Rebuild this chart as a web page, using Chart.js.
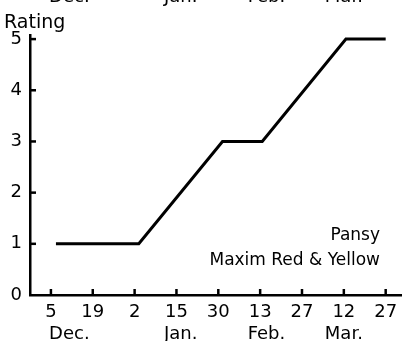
<!DOCTYPE html>
<html><head><meta charset="utf-8">
<script src="https://cdn.jsdelivr.net/npm/chart.js@4"></script>
<style>html,body{margin:0;padding:0;background:#fff;overflow:hidden}#wrap{width:402px;height:341px;position:relative}</style>
</head><body><div id="wrap"><canvas id="c"></canvas></div>
<script>
const tickLabels = ["5","19","2","15","30","13","27","12","27"];
const monthLabels = ["Dec.","Jan.","Feb.","Mar."];
const monthAt = [0.44, 3.1, 5.15, 7.0];
const xPos = [0.12, 2.1, 4.1, 5.05, 7.05, 8.0];
const rating = [1, 1, 3, 3, 5, 5];
const yTicks = [0,1,2,3,4,5];
const yTitle = "Rating";
const noteLines = ["Pansy","Maxim Red & Yellow"];

const FONT = "DejaVu Sans";
const extras = {
  id: 'extras',
  afterDraw(chart) {
    const ctx = chart.ctx, xs = chart.scales.x, ys = chart.scales.y;
    ctx.save();
    ctx.strokeStyle = '#000'; ctx.lineWidth = 2.5;
    yTicks.forEach(v => { if (v === 0) return; const p = ys.getPixelForValue(v);
      ctx.beginPath(); ctx.moveTo(xs.left, p); ctx.lineTo(xs.left + 6, p); ctx.stroke(); });
    tickLabels.forEach((t, i) => { const p = xs.getPixelForValue(i);
      ctx.beginPath(); ctx.moveTo(p, ys.bottom); ctx.lineTo(p, ys.bottom - 6); ctx.stroke(); });
    ctx.fillStyle = '#000';
    ctx.font = '18px "' + FONT + '"';
    ctx.textAlign = 'center'; ctx.textBaseline = 'alphabetic';
    monthLabels.forEach((m, i) => {
      const p = xs.getPixelForValue(monthAt[i]);
      ctx.fillText(m, p, 339);
      ctx.fillText(m, p, 1.5);
    });
    ctx.textAlign = 'left';
    ctx.font = '19px "' + FONT + '"';
    ctx.fillText(yTitle, 4, 28);
    ctx.textAlign = 'right';
    ctx.font = '17px "' + FONT + '"';
    ctx.fillText(noteLines[0], 380, 240);
    ctx.fillText(noteLines[1], 380, 265);
    ctx.restore();
  }
};

new Chart(document.getElementById('c'), {
  type: 'line',
  data: { datasets: [{ data: xPos.map((x, i) => ({x, y: rating[i]})),
    borderColor: '#000', borderWidth: 3, pointRadius: 0, tension: 0, fill: false }] },
  options: {
    responsive: true, maintainAspectRatio: false, animation: false,
    layout: { padding: { top: 35, left: 0, right: 0, bottom: 0 } },
    plugins: { legend: { display: false }, tooltip: { enabled: false } },
    scales: {
      x: { type: 'linear', min: -0.5, max: 8.39,
        afterBuildTicks: s => { s.ticks = tickLabels.map((_, i) => ({ value: i })); },
        afterFit: s => { s.height = 46; s.paddingRight = 0; s.paddingLeft = 0; },
        grid: { display: false, drawTicks: false },
        border: { display: true, color: '#000', width: 2.5 },
        ticks: { color: '#000', padding: 7, maxRotation: 0, autoSkip: false,
          font: { family: FONT, size: 18 }, callback: v => tickLabels[v] } },
      y: { type: 'linear', min: 0, max: 5.08,
        afterBuildTicks: s => { s.ticks = yTicks.map(v => ({ value: v })); },
        afterFit: s => { s.width = 30; s.paddingTop = 0; s.paddingBottom = 0; },
        grid: { display: false, drawTicks: false },
        border: { display: true, color: '#000', width: 2.5 },
        ticks: { color: '#000', padding: 8, font: { family: FONT, size: 18 } } }
    }
  },
  plugins: [extras]
});
</script></body></html>
